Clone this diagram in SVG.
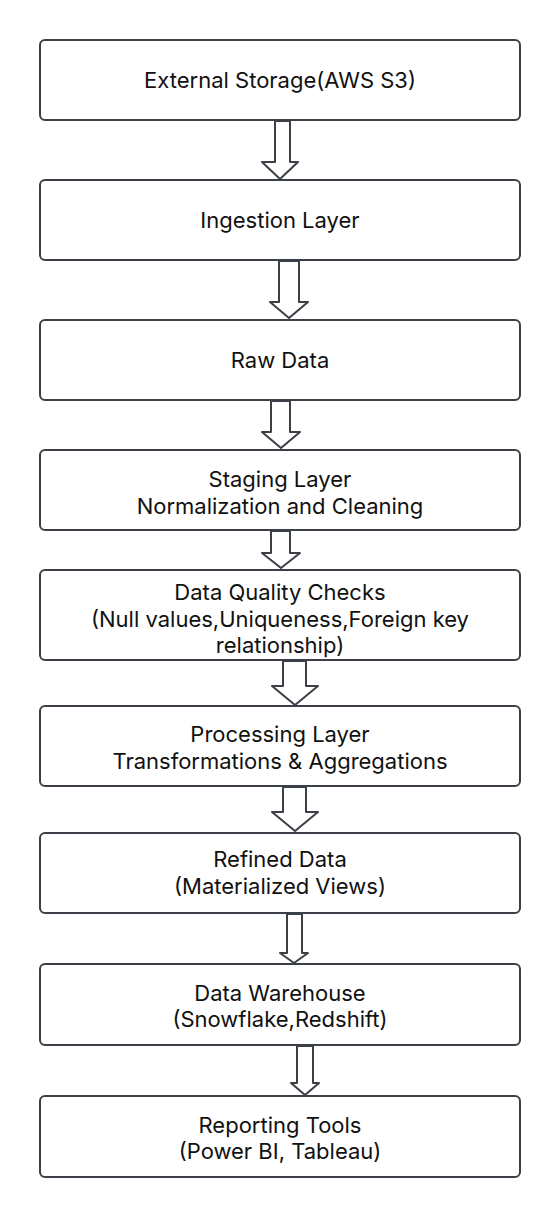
<svg xmlns="http://www.w3.org/2000/svg" width="560" height="1217" viewBox="0 0 560 1217">
<style>
.box{fill:#ffffff;stroke:#3b3f46;stroke-width:2}
.arr{fill:#ffffff;stroke:#3b3f46;stroke-width:2;stroke-linejoin:round}
text{font-family:Inter,"Noto Sans","Liberation Sans",sans-serif;font-size:22px;fill:#111111;text-anchor:middle}
</style>
<rect width="560" height="1217" fill="#ffffff"/>
<g id="connectors">
<path class="arr" d="M275,121 L275,162 L262,162 L280,179 L298,162 L290,162 L290,121 Z"/>
<path class="arr" d="M279,261 L279,302 L270,302 L289,318 L308,302 L299,302 L299,261 Z"/>
<path class="arr" d="M271,401 L271,432 L262,432 L281,448 L300,432 L290,432 L290,401 Z"/>
<path class="arr" d="M271,531 L271,553 L262,553 L281,568 L300,553 L290,553 L290,531 Z"/>
<path class="arr" d="M283,661 L283,686 L272,686 L295,705 L318,686 L306,686 L306,661 Z"/>
<path class="arr" d="M283,787 L283,812 L272,812 L295,831 L318,812 L306,812 L306,787 Z"/>
<path class="arr" d="M287,914 L287,953 L280,953 L294,963 L308,953 L302,953 L302,914 Z"/>
<path class="arr" d="M297,1046 L297,1083 L291,1083 L305,1095 L319,1083 L313,1083 L313,1046 Z"/>
</g>
<g id="n1"><rect class="box" x="40" y="40" width="480" height="80" rx="5"/><text x="280" y="88">External Storage(AWS S3)</text></g>
<g id="n2"><rect class="box" x="40" y="180" width="480" height="80" rx="5"/><text x="280" y="228">Ingestion Layer</text></g>
<g id="n3"><rect class="box" x="40" y="320" width="480" height="80" rx="5"/><text x="280" y="368">Raw Data</text></g>
<g id="n4"><rect class="box" x="40" y="450" width="480" height="80" rx="5"/><text x="280" y="487">Staging Layer</text><text x="280" y="514">Normalization and Cleaning</text></g>
<g id="n5"><rect class="box" x="40" y="570" width="480" height="90" rx="5"/><text x="280" y="600">Data Quality Checks</text><text x="280" y="627">(Null values,Uniqueness,Foreign key</text><text x="280" y="653">relationship)</text></g>
<g id="n6"><rect class="box" x="40" y="706" width="480" height="80" rx="5"/><text x="280" y="742">Processing Layer</text><text x="280" y="769">Transformations &amp; Aggregations</text></g>
<g id="n7"><rect class="box" x="40" y="833" width="480" height="80" rx="5"/><text x="280" y="867">Refined Data</text><text x="280" y="894">(Materialized Views)</text></g>
<g id="n8"><rect class="box" x="40" y="964" width="480" height="81" rx="5"/><text x="280" y="1001">Data Warehouse</text><text x="280" y="1027">(Snowflake,Redshift)</text></g>
<g id="n9"><rect class="box" x="40" y="1096" width="480" height="81" rx="5"/><text x="280" y="1133">Reporting Tools</text><text x="280" y="1159">(Power BI, Tableau)</text></g>
</svg>
